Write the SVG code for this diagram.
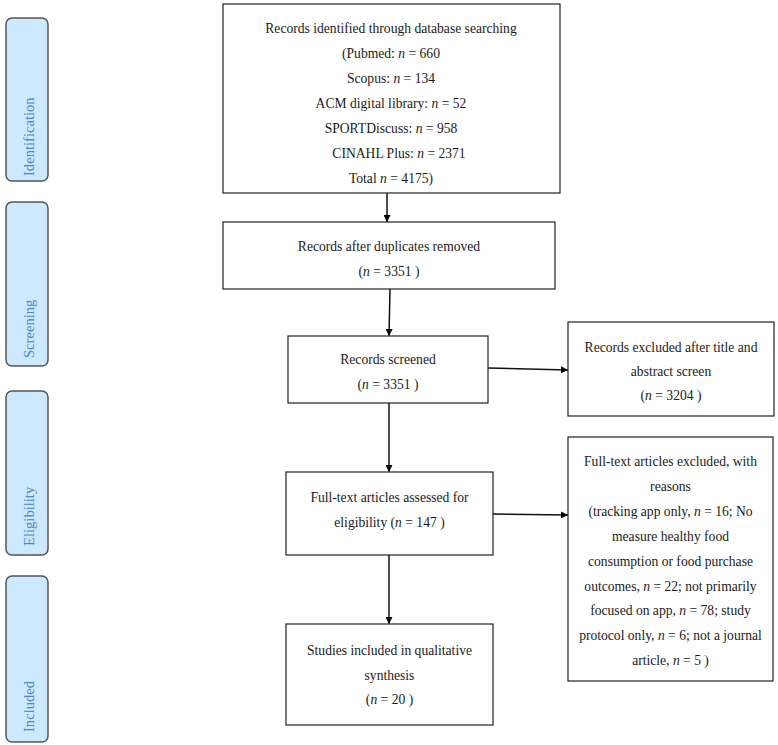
<svg xmlns="http://www.w3.org/2000/svg" width="778" height="745" viewBox="0 0 778 745">
<style>
.box{fill:#fff;stroke:#222;stroke-width:1.2}
.phase{fill:#cce9ff;stroke:#555;stroke-width:1.5}
.t{font-family:"Liberation Serif","Times New Roman",serif;font-size:13.6px;fill:#1a1a1a;text-anchor:middle}
.pt{font-family:"Liberation Serif","Times New Roman",serif;font-size:14.6px;fill:#4a86c8}
.i{font-style:italic}
.c{stroke:#111;stroke-width:1.5;fill:none;marker-end:url(#ah)}
</style>
<defs>
<marker id="ah" viewBox="0 0 10 10" refX="10" refY="5" markerWidth="7" markerHeight="7" markerUnits="userSpaceOnUse" orient="auto">
<path d="M0,0 L10,5 L0,10 z" fill="#000"/>
</marker>
</defs>
<rect width="778" height="745" fill="#fff"/>
<g id="phase-identification"><rect class="phase" x="6" y="18" width="42" height="163" rx="6"/><text class="pt" transform="translate(34,176) rotate(-90)">Identification</text></g>
<g id="phase-screening"><rect class="phase" x="6" y="202" width="42" height="164" rx="6"/><text class="pt" transform="translate(34,358) rotate(-90)">Screening</text></g>
<g id="phase-eligibility"><rect class="phase" x="6" y="391" width="42" height="164" rx="6"/><text class="pt" transform="translate(34,546) rotate(-90)">Eligibility</text></g>
<g id="phase-included"><rect class="phase" x="6" y="576" width="42" height="166" rx="6"/><text class="pt" transform="translate(34,732) rotate(-90)">Included</text></g>

<g id="connectors">
<line class="c" x1="387" y1="193" x2="387" y2="222"/>
<line class="c" x1="390" y1="289" x2="389" y2="336"/>
<line class="c" x1="488" y1="368" x2="568" y2="370"/>
<line class="c" x1="389" y1="403" x2="389" y2="472"/>
<line class="c" x1="493" y1="514" x2="568" y2="515"/>
<line class="c" x1="389" y1="555" x2="389" y2="624"/>
</g>

<g id="n-identified"><rect class="box" x="223" y="4" width="337" height="189"/>
<text class="t" x="391" y="33">Records identified through database searching</text>
<text class="t" x="391" y="58">(Pubmed: <tspan class="i">n</tspan> = 660</text>
<text class="t" x="391" y="83">Scopus: <tspan class="i">n</tspan> = 134</text>
<text class="t" x="391" y="108">ACM digital library: <tspan class="i">n</tspan> = 52</text>
<text class="t" x="391" y="133">SPORTDiscuss: <tspan class="i">n</tspan> = 958</text>
<text class="t" x="399" y="158">CINAHL Plus: <tspan class="i">n</tspan> = 2371</text>
<text class="t" x="391" y="183">Total <tspan class="i">n</tspan> = 4175)</text>
</g>
<g id="n-duplicates"><rect class="box" x="223" y="222" width="332" height="67"/>
<text class="t" x="389" y="251">Records after duplicates removed</text>
<text class="t" x="389" y="276">(<tspan class="i">n</tspan> = 3351 )</text>
</g>
<g id="n-screened"><rect class="box" x="288" y="336" width="200" height="67"/>
<text class="t" x="388" y="364">Records screened</text>
<text class="t" x="388" y="389">(<tspan class="i">n</tspan> = 3351 )</text>
</g>
<g id="n-excluded1"><rect class="box" x="568" y="322" width="206" height="94"/>
<text class="t" x="671" y="352">Records excluded after title and</text>
<text class="t" x="671" y="376">abstract screen</text>
<text class="t" x="671" y="400">(<tspan class="i">n</tspan> = 3204 )</text>
</g>
<g id="n-fulltext"><rect class="box" x="286" y="472" width="207" height="83"/>
<text class="t" x="389.5" y="502">Full-text articles assessed for</text>
<text class="t" x="389.5" y="527">eligibility (<tspan class="i">n</tspan> = 147 )</text>
</g>
<g id="n-excluded2"><rect class="box" x="568" y="437" width="205" height="244"/>
<text class="t" x="670.5" y="466">Full-text articles excluded, with</text>
<text class="t" x="670.5" y="491">reasons</text>
<text class="t" x="670.5" y="516">(tracking app only, <tspan class="i">n</tspan> = 16; No</text>
<text class="t" x="670.5" y="541">measure healthy food</text>
<text class="t" x="670.5" y="566">consumption or food purchase</text>
<text class="t" x="670.5" y="591">outcomes, <tspan class="i">n</tspan> = 22; not primarily</text>
<text class="t" x="670.5" y="615">focused on app, <tspan class="i">n</tspan> = 78; study</text>
<text class="t" x="670.5" y="640">protocol only, <tspan class="i">n</tspan> = 6; not a journal</text>
<text class="t" x="670.5" y="665">article, <tspan class="i">n</tspan> = 5 )</text>
</g>
<g id="n-included"><rect class="box" x="286" y="624" width="207" height="101"/>
<text class="t" x="389.5" y="655">Studies included in qualitative</text>
<text class="t" x="389.5" y="680">synthesis</text>
<text class="t" x="389.5" y="704">(<tspan class="i">n</tspan> = 20 )</text>
</g>
</svg>
